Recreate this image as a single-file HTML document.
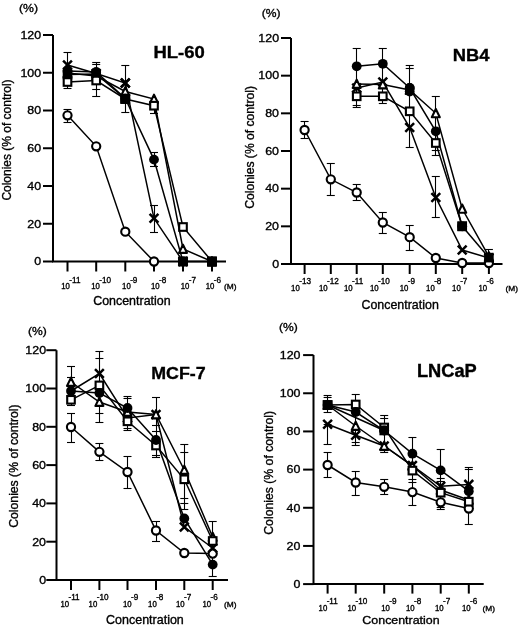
<!DOCTYPE html>
<html><head><meta charset="utf-8"><title>Colonies vs Concentration</title>
<style>
html,body{margin:0;padding:0;background:#fff;overflow:hidden;width:520px;height:626px;}
svg{display:block;filter:grayscale(1);}
text{font-family:"Liberation Sans", sans-serif;fill:#000;stroke:#000;stroke-width:0.35px;}
</style></head>
<body>
<svg width="520" height="626" viewBox="0 0 520 626" stroke="#000" stroke-linecap="butt">
<rect width="520" height="626" fill="#fff" stroke="none"/>
<path d="M53 35V261.5H226" fill="none" stroke-width="2.0"/>
<line x1="43" y1="261.5" x2="53" y2="261.5" stroke-width="2.0"/>
<text x="34.25" y="265.3" font-size="11.6" textLength="6.9" lengthAdjust="spacingAndGlyphs">0</text>
<line x1="43" y1="223.75" x2="53" y2="223.75" stroke-width="2.0"/>
<text x="27.3" y="227.55" font-size="11.6" textLength="13.8" lengthAdjust="spacingAndGlyphs">20</text>
<line x1="43" y1="186" x2="53" y2="186" stroke-width="2.0"/>
<text x="27.3" y="189.8" font-size="11.6" textLength="13.8" lengthAdjust="spacingAndGlyphs">40</text>
<line x1="43" y1="148.25" x2="53" y2="148.25" stroke-width="2.0"/>
<text x="27.3" y="152.05" font-size="11.6" textLength="13.8" lengthAdjust="spacingAndGlyphs">60</text>
<line x1="43" y1="110.5" x2="53" y2="110.5" stroke-width="2.0"/>
<text x="27.3" y="114.3" font-size="11.6" textLength="13.8" lengthAdjust="spacingAndGlyphs">80</text>
<line x1="43" y1="72.75" x2="53" y2="72.75" stroke-width="2.0"/>
<text x="20.47" y="76.55" font-size="11.6" textLength="20.71" lengthAdjust="spacingAndGlyphs">100</text>
<line x1="43" y1="35" x2="53" y2="35" stroke-width="2.0"/>
<text x="20.47" y="38.8" font-size="11.6" textLength="20.71" lengthAdjust="spacingAndGlyphs">120</text>
<line x1="67.5" y1="261.5" x2="67.5" y2="271.5" stroke-width="2.0"/>
<text x="61.28" y="289" font-size="8.2" textLength="8.66" lengthAdjust="spacingAndGlyphs">10</text>
<text x="69.36" y="282.7" font-size="8.6" textLength="11.2" lengthAdjust="spacingAndGlyphs">-11</text>
<line x1="96.2" y1="261.5" x2="96.2" y2="271.5" stroke-width="2.0"/>
<text x="91.28" y="289" font-size="8.2" textLength="8.66" lengthAdjust="spacingAndGlyphs">10</text>
<text x="99.36" y="282.79" font-size="8.6" textLength="11.81" lengthAdjust="spacingAndGlyphs">-10</text>
<line x1="125.3" y1="261.5" x2="125.3" y2="271.5" stroke-width="2.0"/>
<text x="122.08" y="289" font-size="8.2" textLength="8.66" lengthAdjust="spacingAndGlyphs">10</text>
<text x="130.16" y="282.79" font-size="8.6" textLength="7.26" lengthAdjust="spacingAndGlyphs">-9</text>
<line x1="154" y1="261.5" x2="154" y2="271.5" stroke-width="2.0"/>
<text x="150.88" y="289" font-size="8.2" textLength="8.66" lengthAdjust="spacingAndGlyphs">10</text>
<text x="158.96" y="282.79" font-size="8.6" textLength="7.26" lengthAdjust="spacingAndGlyphs">-8</text>
<line x1="183" y1="261.5" x2="183" y2="271.5" stroke-width="2.0"/>
<text x="180.68" y="289" font-size="8.2" textLength="8.66" lengthAdjust="spacingAndGlyphs">10</text>
<text x="188.76" y="282.7" font-size="8.6" textLength="7.26" lengthAdjust="spacingAndGlyphs">-7</text>
<line x1="212" y1="261.5" x2="212" y2="271.5" stroke-width="2.0"/>
<text x="205.68" y="289" font-size="8.2" textLength="8.66" lengthAdjust="spacingAndGlyphs">10</text>
<text x="213.76" y="282.79" font-size="8.6" textLength="7.26" lengthAdjust="spacingAndGlyphs">-6</text>
<text x="224.1" y="289" font-size="8" textLength="12.49" lengthAdjust="spacingAndGlyphs">(M)</text>
<text x="18.97" y="12.16" font-size="11.61" textLength="19.03" lengthAdjust="spacingAndGlyphs">(%)</text>
<text x="153.41" y="58.24" font-size="16.34" font-weight="bold" stroke-width="0.1" textLength="51.3" lengthAdjust="spacingAndGlyphs">HL-60</text>
<text x="93.18" y="305.28" font-size="11.92" textLength="77.44" lengthAdjust="spacingAndGlyphs">Concentration</text>
<text x="0" y="0" font-size="12.3" textLength="121.17" lengthAdjust="spacingAndGlyphs" transform="translate(11.46 200.6) rotate(-90)">Colonies (% of control)</text>
<line x1="67.5" y1="52" x2="67.5" y2="88.5" stroke-width="1.1"/>
<line x1="63.5" y1="52.5" x2="71.5" y2="52.5" stroke-width="1.1"/>
<line x1="63.5" y1="88.5" x2="71.5" y2="88.5" stroke-width="1.1"/>
<line x1="67.5" y1="109.4" x2="67.5" y2="122.5" stroke-width="1.1"/>
<line x1="63.5" y1="109.5" x2="71.5" y2="109.5" stroke-width="1.1"/>
<line x1="63.5" y1="122.5" x2="71.5" y2="122.5" stroke-width="1.1"/>
<line x1="96.5" y1="62.7" x2="96.5" y2="96.5" stroke-width="1.1"/>
<line x1="92.2" y1="62.5" x2="100.2" y2="62.5" stroke-width="1.1"/>
<line x1="92.2" y1="64.5" x2="100.2" y2="64.5" stroke-width="1.1"/>
<line x1="92.2" y1="89.5" x2="100.2" y2="89.5" stroke-width="1.1"/>
<line x1="92.2" y1="96.5" x2="100.2" y2="96.5" stroke-width="1.1"/>
<line x1="125.5" y1="65" x2="125.5" y2="112.5" stroke-width="1.1"/>
<line x1="121.3" y1="65.5" x2="129.3" y2="65.5" stroke-width="1.1"/>
<line x1="121.3" y1="112.5" x2="129.3" y2="112.5" stroke-width="1.1"/>
<line x1="154.5" y1="152.5" x2="154.5" y2="166.3" stroke-width="1.1"/>
<line x1="150" y1="152.5" x2="158" y2="152.5" stroke-width="1.1"/>
<line x1="150" y1="166.5" x2="158" y2="166.5" stroke-width="1.1"/>
<line x1="154.5" y1="205" x2="154.5" y2="232.6" stroke-width="1.1"/>
<line x1="150" y1="205.5" x2="158" y2="205.5" stroke-width="1.1"/>
<line x1="150" y1="232.5" x2="158" y2="232.5" stroke-width="1.1"/>
<line x1="154.5" y1="100" x2="154.5" y2="113.4" stroke-width="1.1"/>
<line x1="150" y1="113.5" x2="158" y2="113.5" stroke-width="1.1"/>
<path d="M67.5 115.3L96.2 146.3L125.3 231.7L154 261.5" fill="none" stroke-width="1.5"/>
<path d="M67.5 82L96.2 80.5L125.3 99L154 105.7L183 227L212 261.5" fill="none" stroke-width="1.5"/>
<path d="M67.5 73L96.2 76L125.3 91.5L154 99L183 249L212 261.5" fill="none" stroke-width="1.5"/>
<path d="M67.5 71L96.2 72L125.3 98.5L154 159.6L183 261.5" fill="none" stroke-width="1.5"/>
<path d="M67.5 74.5L96.2 74L125.3 98.8" fill="none" stroke-width="1.5"/>
<path d="M183 261.5L212 261.5" fill="none" stroke-width="1.5"/>
<path d="M67.5 65L96.2 73.5L125.3 83L154 218.3L183 261.5" fill="none" stroke-width="1.5"/>
<circle cx="67.5" cy="115.3" r="4.1" fill="#fff" stroke-width="2.1"/>
<circle cx="96.2" cy="146.3" r="4.1" fill="#fff" stroke-width="2.1"/>
<circle cx="125.3" cy="231.7" r="4.1" fill="#fff" stroke-width="2.1"/>
<circle cx="154" cy="261.5" r="4.1" fill="#fff" stroke-width="2.1"/>
<path d="M67.5 68.7L71.5 76.9L63.5 76.9Z" fill="#fff" stroke-width="2.1" stroke-linejoin="round"/>
<path d="M96.2 71.7L100.2 79.9L92.2 79.9Z" fill="#fff" stroke-width="2.1" stroke-linejoin="round"/>
<path d="M125.3 87.2L129.3 95.4L121.3 95.4Z" fill="#fff" stroke-width="2.1" stroke-linejoin="round"/>
<path d="M154 94.7L158 102.9L150 102.9Z" fill="#fff" stroke-width="2.1" stroke-linejoin="round"/>
<path d="M183 244.7L187 252.9L179 252.9Z" fill="#fff" stroke-width="2.1" stroke-linejoin="round"/>
<path d="M212 257.2L216 265.4L208 265.4Z" fill="#fff" stroke-width="2.1" stroke-linejoin="round"/>
<rect x="62.7" y="69.7" width="9.6" height="9.6" fill="#000" stroke="none"/>
<rect x="91.4" y="69.2" width="9.6" height="9.6" fill="#000" stroke="none"/>
<rect x="120.5" y="94" width="9.6" height="9.6" fill="#000" stroke="none"/>
<rect x="178.2" y="256.7" width="9.6" height="9.6" fill="#000" stroke="none"/>
<rect x="207.2" y="256.7" width="9.6" height="9.6" fill="#000" stroke="none"/>
<circle cx="67.5" cy="71" r="4.9" fill="#000" stroke="none"/>
<circle cx="96.2" cy="72" r="4.9" fill="#000" stroke="none"/>
<circle cx="125.3" cy="98.5" r="4.9" fill="#000" stroke="none"/>
<circle cx="154" cy="159.6" r="4.9" fill="#000" stroke="none"/>
<circle cx="183" cy="261.5" r="4.9" fill="#000" stroke="none"/>
<rect x="63.7" y="78.2" width="7.6" height="7.6" fill="#fff" stroke-width="2.1"/>
<rect x="92.4" y="76.7" width="7.6" height="7.6" fill="#fff" stroke-width="2.1"/>
<rect x="121.5" y="95.2" width="7.6" height="7.6" fill="#fff" stroke-width="2.1"/>
<rect x="150.2" y="101.9" width="7.6" height="7.6" fill="#fff" stroke-width="2.1"/>
<rect x="179.2" y="223.2" width="7.6" height="7.6" fill="#fff" stroke-width="2.1"/>
<rect x="208.2" y="257.7" width="7.6" height="7.6" fill="#fff" stroke-width="2.1"/>
<path d="M63.1 60.6L71.9 69.4M71.9 60.6L63.1 69.4" fill="none" stroke-width="2.5"/>
<path d="M91.8 69.1L100.6 77.9M100.6 69.1L91.8 77.9" fill="none" stroke-width="2.5"/>
<path d="M120.9 78.6L129.7 87.4M129.7 78.6L120.9 87.4" fill="none" stroke-width="2.5"/>
<path d="M149.6 213.9L158.4 222.7M158.4 213.9L149.6 222.7" fill="none" stroke-width="2.5"/>
<path d="M178.6 257.1L187.4 265.9M187.4 257.1L178.6 265.9" fill="none" stroke-width="2.5"/>
<rect x="120.5" y="94" width="9.6" height="9.6" fill="#000" stroke="none"/>
<path d="M120.9 78.6L129.7 87.4M129.7 78.6L120.9 87.4" fill="none" stroke-width="2.5"/>
<rect x="178.2" y="256.7" width="9.6" height="9.6" fill="#000" stroke="none"/>
<rect x="207.2" y="256.7" width="9.6" height="9.6" fill="#000" stroke="none"/>
<path d="M291 38V264H502.5" fill="none" stroke-width="2.0"/>
<line x1="281" y1="264" x2="291" y2="264" stroke-width="2.0"/>
<text x="272.15" y="267.8" font-size="11.6" textLength="6.9" lengthAdjust="spacingAndGlyphs">0</text>
<line x1="281" y1="226.33" x2="291" y2="226.33" stroke-width="2.0"/>
<text x="265.2" y="230.13" font-size="11.6" textLength="13.8" lengthAdjust="spacingAndGlyphs">20</text>
<line x1="281" y1="188.67" x2="291" y2="188.67" stroke-width="2.0"/>
<text x="265.2" y="192.47" font-size="11.6" textLength="13.8" lengthAdjust="spacingAndGlyphs">40</text>
<line x1="281" y1="151" x2="291" y2="151" stroke-width="2.0"/>
<text x="265.2" y="154.8" font-size="11.6" textLength="13.8" lengthAdjust="spacingAndGlyphs">60</text>
<line x1="281" y1="113.33" x2="291" y2="113.33" stroke-width="2.0"/>
<text x="265.2" y="117.13" font-size="11.6" textLength="13.8" lengthAdjust="spacingAndGlyphs">80</text>
<line x1="281" y1="75.67" x2="291" y2="75.67" stroke-width="2.0"/>
<text x="258.37" y="79.47" font-size="11.6" textLength="20.71" lengthAdjust="spacingAndGlyphs">100</text>
<line x1="281" y1="38" x2="291" y2="38" stroke-width="2.0"/>
<text x="258.37" y="41.8" font-size="11.6" textLength="20.71" lengthAdjust="spacingAndGlyphs">120</text>
<line x1="304.6" y1="264" x2="304.6" y2="274" stroke-width="2.0"/>
<text x="291.08" y="290.5" font-size="8.2" textLength="8.66" lengthAdjust="spacingAndGlyphs">10</text>
<text x="299.16" y="284.29" font-size="8.6" textLength="11.81" lengthAdjust="spacingAndGlyphs">-13</text>
<line x1="330.8" y1="264" x2="330.8" y2="274" stroke-width="2.0"/>
<text x="318.98" y="290.5" font-size="8.2" textLength="8.66" lengthAdjust="spacingAndGlyphs">10</text>
<text x="327.06" y="284.29" font-size="8.6" textLength="11.81" lengthAdjust="spacingAndGlyphs">-12</text>
<line x1="356.7" y1="264" x2="356.7" y2="274" stroke-width="2.0"/>
<text x="343.98" y="290.5" font-size="8.2" textLength="8.66" lengthAdjust="spacingAndGlyphs">10</text>
<text x="352.06" y="284.2" font-size="8.6" textLength="11.2" lengthAdjust="spacingAndGlyphs">-11</text>
<line x1="382.8" y1="264" x2="382.8" y2="274" stroke-width="2.0"/>
<text x="369.98" y="290.5" font-size="8.2" textLength="8.66" lengthAdjust="spacingAndGlyphs">10</text>
<text x="378.06" y="284.29" font-size="8.6" textLength="11.81" lengthAdjust="spacingAndGlyphs">-10</text>
<line x1="409.7" y1="264" x2="409.7" y2="274" stroke-width="2.0"/>
<text x="399.68" y="290.5" font-size="8.2" textLength="8.66" lengthAdjust="spacingAndGlyphs">10</text>
<text x="407.76" y="284.29" font-size="8.6" textLength="7.26" lengthAdjust="spacingAndGlyphs">-9</text>
<line x1="435.8" y1="264" x2="435.8" y2="274" stroke-width="2.0"/>
<text x="426.08" y="290.5" font-size="8.2" textLength="8.66" lengthAdjust="spacingAndGlyphs">10</text>
<text x="434.16" y="284.29" font-size="8.6" textLength="7.26" lengthAdjust="spacingAndGlyphs">-8</text>
<line x1="462.2" y1="264" x2="462.2" y2="274" stroke-width="2.0"/>
<text x="452.08" y="290.5" font-size="8.2" textLength="8.66" lengthAdjust="spacingAndGlyphs">10</text>
<text x="460.16" y="284.2" font-size="8.6" textLength="7.26" lengthAdjust="spacingAndGlyphs">-7</text>
<line x1="488.9" y1="264" x2="488.9" y2="274" stroke-width="2.0"/>
<text x="478.48" y="290.5" font-size="8.2" textLength="8.66" lengthAdjust="spacingAndGlyphs">10</text>
<text x="486.56" y="284.29" font-size="8.6" textLength="7.26" lengthAdjust="spacingAndGlyphs">-6</text>
<text x="505.5" y="290.5" font-size="8" textLength="12.49" lengthAdjust="spacingAndGlyphs">(M)</text>
<text x="261.77" y="16.52" font-size="11.83" textLength="18.81" lengthAdjust="spacingAndGlyphs">(%)</text>
<text x="452.72" y="61.2" font-size="16.96" font-weight="bold" stroke-width="0.1" textLength="36.68" lengthAdjust="spacingAndGlyphs">NB4</text>
<text x="361.48" y="308.67" font-size="12.6" textLength="77.34" lengthAdjust="spacingAndGlyphs">Concentration</text>
<text x="0" y="0" font-size="12.3" textLength="122.69" lengthAdjust="spacingAndGlyphs" transform="translate(254.06 208.71) rotate(-90)">Colonies (% of control)</text>
<line x1="304.5" y1="121.3" x2="304.5" y2="138.8" stroke-width="1.1"/>
<line x1="300.6" y1="121.5" x2="308.6" y2="121.5" stroke-width="1.1"/>
<line x1="300.6" y1="138.5" x2="308.6" y2="138.5" stroke-width="1.1"/>
<line x1="330.5" y1="163" x2="330.5" y2="195" stroke-width="1.1"/>
<line x1="326.8" y1="163.5" x2="334.8" y2="163.5" stroke-width="1.1"/>
<line x1="326.8" y1="195.5" x2="334.8" y2="195.5" stroke-width="1.1"/>
<line x1="356.5" y1="48.8" x2="356.5" y2="107" stroke-width="1.1"/>
<line x1="352.7" y1="48.5" x2="360.7" y2="48.5" stroke-width="1.1"/>
<line x1="352.7" y1="105.5" x2="360.7" y2="105.5" stroke-width="1.1"/>
<line x1="352.7" y1="107.5" x2="360.7" y2="107.5" stroke-width="1.1"/>
<line x1="356.5" y1="184.5" x2="356.5" y2="200.5" stroke-width="1.1"/>
<line x1="352.7" y1="184.5" x2="360.7" y2="184.5" stroke-width="1.1"/>
<line x1="352.7" y1="200.5" x2="360.7" y2="200.5" stroke-width="1.1"/>
<line x1="382.5" y1="48" x2="382.5" y2="103.8" stroke-width="1.1"/>
<line x1="378.8" y1="48.5" x2="386.8" y2="48.5" stroke-width="1.1"/>
<line x1="378.8" y1="103.5" x2="386.8" y2="103.5" stroke-width="1.1"/>
<line x1="382.5" y1="212.5" x2="382.5" y2="233.8" stroke-width="1.1"/>
<line x1="378.8" y1="212.5" x2="386.8" y2="212.5" stroke-width="1.1"/>
<line x1="378.8" y1="233.5" x2="386.8" y2="233.5" stroke-width="1.1"/>
<line x1="409.5" y1="65" x2="409.5" y2="147.5" stroke-width="1.1"/>
<line x1="405.7" y1="65.5" x2="413.7" y2="65.5" stroke-width="1.1"/>
<line x1="405.7" y1="68.5" x2="413.7" y2="68.5" stroke-width="1.1"/>
<line x1="405.7" y1="147.5" x2="413.7" y2="147.5" stroke-width="1.1"/>
<line x1="409.5" y1="225.5" x2="409.5" y2="250" stroke-width="1.1"/>
<line x1="405.7" y1="225.5" x2="413.7" y2="225.5" stroke-width="1.1"/>
<line x1="405.7" y1="250.5" x2="413.7" y2="250.5" stroke-width="1.1"/>
<line x1="435.5" y1="96.3" x2="435.5" y2="155" stroke-width="1.1"/>
<line x1="431.8" y1="96.5" x2="439.8" y2="96.5" stroke-width="1.1"/>
<line x1="431.8" y1="150.5" x2="439.8" y2="150.5" stroke-width="1.1"/>
<line x1="431.8" y1="155.5" x2="439.8" y2="155.5" stroke-width="1.1"/>
<line x1="435.5" y1="176.3" x2="435.5" y2="217.5" stroke-width="1.1"/>
<line x1="431.8" y1="176.5" x2="439.8" y2="176.5" stroke-width="1.1"/>
<line x1="431.8" y1="217.5" x2="439.8" y2="217.5" stroke-width="1.1"/>
<line x1="488.5" y1="249.5" x2="488.5" y2="262" stroke-width="1.1"/>
<line x1="484.9" y1="249.5" x2="492.9" y2="249.5" stroke-width="1.1"/>
<line x1="484.9" y1="262.5" x2="492.9" y2="262.5" stroke-width="1.1"/>
<path d="M304.6 130L330.8 179.3L356.7 192.5L382.8 222.5L409.7 237.2L435.8 258L462.2 263L488.9 263" fill="none" stroke-width="1.5"/>
<path d="M356.7 96.3L382.8 96.3L409.7 111.3L435.8 143L462.2 226.3" fill="none" stroke-width="1.5"/>
<path d="M356.7 88L382.8 82L409.7 127.5L435.8 197.5L462.2 250L488.9 258" fill="none" stroke-width="1.5"/>
<path d="M356.7 84L382.8 84.5L409.7 90L435.8 113.3L462.2 208.8L488.9 256.5" fill="none" stroke-width="1.5"/>
<path d="M356.7 66.3L382.8 63.8L409.7 88L435.8 131.3L462.2 226.3" fill="none" stroke-width="1.5"/>
<path d="M462.2 226.3L488.9 257.6" fill="none" stroke-width="1.5"/>
<circle cx="304.6" cy="130" r="4.1" fill="#fff" stroke-width="2.1"/>
<circle cx="330.8" cy="179.3" r="4.1" fill="#fff" stroke-width="2.1"/>
<circle cx="356.7" cy="192.5" r="4.1" fill="#fff" stroke-width="2.1"/>
<circle cx="382.8" cy="222.5" r="4.1" fill="#fff" stroke-width="2.1"/>
<circle cx="409.7" cy="237.2" r="4.1" fill="#fff" stroke-width="2.1"/>
<circle cx="435.8" cy="258" r="4.1" fill="#fff" stroke-width="2.1"/>
<circle cx="462.2" cy="263" r="4.1" fill="#fff" stroke-width="2.1"/>
<circle cx="488.9" cy="263" r="4.1" fill="#fff" stroke-width="2.1"/>
<rect x="352.9" y="92.5" width="7.6" height="7.6" fill="#fff" stroke-width="2.1"/>
<rect x="379" y="92.5" width="7.6" height="7.6" fill="#fff" stroke-width="2.1"/>
<rect x="405.9" y="107.5" width="7.6" height="7.6" fill="#fff" stroke-width="2.1"/>
<rect x="432" y="139.2" width="7.6" height="7.6" fill="#fff" stroke-width="2.1"/>
<rect x="458.4" y="222.5" width="7.6" height="7.6" fill="#fff" stroke-width="2.1"/>
<path d="M352.3 83.6L361.1 92.4M361.1 83.6L352.3 92.4" fill="none" stroke-width="2.5"/>
<path d="M378.4 77.6L387.2 86.4M387.2 77.6L378.4 86.4" fill="none" stroke-width="2.5"/>
<path d="M405.3 123.1L414.1 131.9M414.1 123.1L405.3 131.9" fill="none" stroke-width="2.5"/>
<path d="M431.4 193.1L440.2 201.9M440.2 193.1L431.4 201.9" fill="none" stroke-width="2.5"/>
<path d="M457.8 245.6L466.6 254.4M466.6 245.6L457.8 254.4" fill="none" stroke-width="2.5"/>
<path d="M484.5 253.6L493.3 262.4M493.3 253.6L484.5 262.4" fill="none" stroke-width="2.5"/>
<path d="M356.7 79.7L360.7 87.9L352.7 87.9Z" fill="#fff" stroke-width="2.1" stroke-linejoin="round"/>
<path d="M382.8 80.2L386.8 88.4L378.8 88.4Z" fill="#fff" stroke-width="2.1" stroke-linejoin="round"/>
<path d="M409.7 85.7L413.7 93.9L405.7 93.9Z" fill="#fff" stroke-width="2.1" stroke-linejoin="round"/>
<path d="M435.8 109L439.8 117.2L431.8 117.2Z" fill="#fff" stroke-width="2.1" stroke-linejoin="round"/>
<path d="M462.2 204.5L466.2 212.7L458.2 212.7Z" fill="#fff" stroke-width="2.1" stroke-linejoin="round"/>
<path d="M488.9 252.2L492.9 260.4L484.9 260.4Z" fill="#fff" stroke-width="2.1" stroke-linejoin="round"/>
<circle cx="356.7" cy="66.3" r="4.9" fill="#000" stroke="none"/>
<circle cx="382.8" cy="63.8" r="4.9" fill="#000" stroke="none"/>
<circle cx="409.7" cy="88" r="4.9" fill="#000" stroke="none"/>
<circle cx="435.8" cy="131.3" r="4.9" fill="#000" stroke="none"/>
<circle cx="462.2" cy="226.3" r="4.9" fill="#000" stroke="none"/>
<rect x="457.4" y="221.5" width="9.6" height="9.6" fill="#000" stroke="none"/>
<rect x="484.1" y="252.8" width="9.6" height="9.6" fill="#000" stroke="none"/>
<circle cx="409.7" cy="91.5" r="4.9" fill="#000" stroke="none"/>
<circle cx="409.7" cy="88" r="4.9" fill="#000" stroke="none"/>
<path d="M56.5 350.2V580H228" fill="none" stroke-width="2.0"/>
<line x1="46.3" y1="580" x2="56.5" y2="580" stroke-width="2.0"/>
<text x="39.15" y="583.8" font-size="11.6" textLength="6.9" lengthAdjust="spacingAndGlyphs">0</text>
<line x1="46.3" y1="541.7" x2="56.5" y2="541.7" stroke-width="2.0"/>
<text x="32.2" y="545.5" font-size="11.6" textLength="13.8" lengthAdjust="spacingAndGlyphs">20</text>
<line x1="46.3" y1="503.4" x2="56.5" y2="503.4" stroke-width="2.0"/>
<text x="32.2" y="507.2" font-size="11.6" textLength="13.8" lengthAdjust="spacingAndGlyphs">40</text>
<line x1="46.3" y1="465.1" x2="56.5" y2="465.1" stroke-width="2.0"/>
<text x="32.2" y="468.9" font-size="11.6" textLength="13.8" lengthAdjust="spacingAndGlyphs">60</text>
<line x1="46.3" y1="426.8" x2="56.5" y2="426.8" stroke-width="2.0"/>
<text x="32.2" y="430.6" font-size="11.6" textLength="13.8" lengthAdjust="spacingAndGlyphs">80</text>
<line x1="46.3" y1="388.5" x2="56.5" y2="388.5" stroke-width="2.0"/>
<text x="25.37" y="392.3" font-size="11.6" textLength="20.71" lengthAdjust="spacingAndGlyphs">100</text>
<line x1="46.3" y1="350.2" x2="56.5" y2="350.2" stroke-width="2.0"/>
<text x="25.37" y="354" font-size="11.6" textLength="20.71" lengthAdjust="spacingAndGlyphs">120</text>
<line x1="71" y1="580" x2="71" y2="590" stroke-width="2.0"/>
<text x="60.38" y="606.6" font-size="8.2" textLength="8.66" lengthAdjust="spacingAndGlyphs">10</text>
<text x="68.46" y="600.3" font-size="8.6" textLength="11.2" lengthAdjust="spacingAndGlyphs">-11</text>
<line x1="99.4" y1="580" x2="99.4" y2="590" stroke-width="2.0"/>
<text x="88.58" y="606.6" font-size="8.2" textLength="8.66" lengthAdjust="spacingAndGlyphs">10</text>
<text x="96.66" y="600.39" font-size="8.6" textLength="11.81" lengthAdjust="spacingAndGlyphs">-10</text>
<line x1="127.5" y1="580" x2="127.5" y2="590" stroke-width="2.0"/>
<text x="122.88" y="606.6" font-size="8.2" textLength="8.66" lengthAdjust="spacingAndGlyphs">10</text>
<text x="130.96" y="600.39" font-size="8.6" textLength="7.26" lengthAdjust="spacingAndGlyphs">-9</text>
<line x1="156" y1="580" x2="156" y2="590" stroke-width="2.0"/>
<text x="148.08" y="606.6" font-size="8.2" textLength="8.66" lengthAdjust="spacingAndGlyphs">10</text>
<text x="156.16" y="600.39" font-size="8.6" textLength="7.26" lengthAdjust="spacingAndGlyphs">-8</text>
<line x1="184.3" y1="580" x2="184.3" y2="590" stroke-width="2.0"/>
<text x="175.88" y="606.6" font-size="8.2" textLength="8.66" lengthAdjust="spacingAndGlyphs">10</text>
<text x="183.96" y="600.3" font-size="8.6" textLength="7.26" lengthAdjust="spacingAndGlyphs">-7</text>
<line x1="212.7" y1="580" x2="212.7" y2="590" stroke-width="2.0"/>
<text x="202.38" y="606.6" font-size="8.2" textLength="8.66" lengthAdjust="spacingAndGlyphs">10</text>
<text x="210.46" y="600.39" font-size="8.6" textLength="7.26" lengthAdjust="spacingAndGlyphs">-6</text>
<text x="224.1" y="606.6" font-size="8" textLength="12.49" lengthAdjust="spacingAndGlyphs">(M)</text>
<text x="27.97" y="334.82" font-size="11.83" textLength="18.81" lengthAdjust="spacingAndGlyphs">(%)</text>
<text x="151.25" y="378.83" font-size="16.9" font-weight="bold" stroke-width="0.1" textLength="54.45" lengthAdjust="spacingAndGlyphs">MCF-7</text>
<text x="106.08" y="624.38" font-size="12.19" textLength="77.74" lengthAdjust="spacingAndGlyphs">Concentration</text>
<text x="0" y="0" font-size="12.3" textLength="123.3" lengthAdjust="spacingAndGlyphs" transform="translate(17.86 527.71) rotate(-90)">Colonies (% of control)</text>
<line x1="71.5" y1="366.2" x2="71.5" y2="405.8" stroke-width="1.1"/>
<line x1="67" y1="366.5" x2="75" y2="366.5" stroke-width="1.1"/>
<line x1="67" y1="377.5" x2="75" y2="377.5" stroke-width="1.1"/>
<line x1="67" y1="405.5" x2="75" y2="405.5" stroke-width="1.1"/>
<line x1="71.5" y1="413.5" x2="71.5" y2="442" stroke-width="1.1"/>
<line x1="67" y1="413.5" x2="75" y2="413.5" stroke-width="1.1"/>
<line x1="67" y1="442.5" x2="75" y2="442.5" stroke-width="1.1"/>
<line x1="99.5" y1="351.3" x2="99.5" y2="422.8" stroke-width="1.1"/>
<line x1="95.4" y1="351.5" x2="103.4" y2="351.5" stroke-width="1.1"/>
<line x1="95.4" y1="358.5" x2="103.4" y2="358.5" stroke-width="1.1"/>
<line x1="95.4" y1="413.5" x2="103.4" y2="413.5" stroke-width="1.1"/>
<line x1="95.4" y1="422.5" x2="103.4" y2="422.5" stroke-width="1.1"/>
<line x1="99.5" y1="443.4" x2="99.5" y2="460" stroke-width="1.1"/>
<line x1="95.4" y1="443.5" x2="103.4" y2="443.5" stroke-width="1.1"/>
<line x1="95.4" y1="460.5" x2="103.4" y2="460.5" stroke-width="1.1"/>
<line x1="127.5" y1="396.6" x2="127.5" y2="430" stroke-width="1.1"/>
<line x1="123.5" y1="396.5" x2="131.5" y2="396.5" stroke-width="1.1"/>
<line x1="123.5" y1="398.5" x2="131.5" y2="398.5" stroke-width="1.1"/>
<line x1="123.5" y1="428.5" x2="131.5" y2="428.5" stroke-width="1.1"/>
<line x1="123.5" y1="430.5" x2="131.5" y2="430.5" stroke-width="1.1"/>
<line x1="127.5" y1="456.3" x2="127.5" y2="488.8" stroke-width="1.1"/>
<line x1="123.5" y1="456.5" x2="131.5" y2="456.5" stroke-width="1.1"/>
<line x1="123.5" y1="488.5" x2="131.5" y2="488.5" stroke-width="1.1"/>
<line x1="156.5" y1="397.5" x2="156.5" y2="457.5" stroke-width="1.1"/>
<line x1="152" y1="397.5" x2="160" y2="397.5" stroke-width="1.1"/>
<line x1="152" y1="425.5" x2="160" y2="425.5" stroke-width="1.1"/>
<line x1="152" y1="431.5" x2="160" y2="431.5" stroke-width="1.1"/>
<line x1="152" y1="455.5" x2="160" y2="455.5" stroke-width="1.1"/>
<line x1="152" y1="457.5" x2="160" y2="457.5" stroke-width="1.1"/>
<line x1="156.5" y1="521" x2="156.5" y2="541" stroke-width="1.1"/>
<line x1="152" y1="521.5" x2="160" y2="521.5" stroke-width="1.1"/>
<line x1="152" y1="541.5" x2="160" y2="541.5" stroke-width="1.1"/>
<line x1="184.5" y1="444.4" x2="184.5" y2="509" stroke-width="1.1"/>
<line x1="180.3" y1="444.5" x2="188.3" y2="444.5" stroke-width="1.1"/>
<line x1="180.3" y1="452.5" x2="188.3" y2="452.5" stroke-width="1.1"/>
<line x1="180.3" y1="498.5" x2="188.3" y2="498.5" stroke-width="1.1"/>
<line x1="180.3" y1="503.5" x2="188.3" y2="503.5" stroke-width="1.1"/>
<line x1="180.3" y1="509.5" x2="188.3" y2="509.5" stroke-width="1.1"/>
<line x1="212.5" y1="521.3" x2="212.5" y2="576" stroke-width="1.1"/>
<line x1="208.7" y1="521.5" x2="216.7" y2="521.5" stroke-width="1.1"/>
<line x1="208.7" y1="576.5" x2="216.7" y2="576.5" stroke-width="1.1"/>
<path d="M71 427L99.4 451.8L127.5 472L156 530.5L184.3 553L212.7 553.6" fill="none" stroke-width="1.5"/>
<path d="M71 399.8L99.4 385.4L127.5 421.3L156 445.5L184.3 479.3L212.7 541" fill="none" stroke-width="1.5"/>
<path d="M71 382L99.4 402L127.5 412L156 414.5L184.3 470L212.7 537" fill="none" stroke-width="1.5"/>
<path d="M71 391L99.4 373.5L127.5 418L156 414.5L184.3 527L212.7 548" fill="none" stroke-width="1.5"/>
<path d="M71 391L99.4 393L127.5 408L156 440L184.3 518.5L212.7 564.6" fill="none" stroke-width="1.5"/>
<circle cx="71" cy="427" r="4.1" fill="#fff" stroke-width="2.1"/>
<circle cx="99.4" cy="451.8" r="4.1" fill="#fff" stroke-width="2.1"/>
<circle cx="127.5" cy="472" r="4.1" fill="#fff" stroke-width="2.1"/>
<circle cx="156" cy="530.5" r="4.1" fill="#fff" stroke-width="2.1"/>
<circle cx="184.3" cy="553" r="4.1" fill="#fff" stroke-width="2.1"/>
<circle cx="212.7" cy="553.6" r="4.1" fill="#fff" stroke-width="2.1"/>
<path d="M95 369.1L103.8 377.9M103.8 369.1L95 377.9" fill="none" stroke-width="2.5"/>
<path d="M123.1 413.6L131.9 422.4M131.9 413.6L123.1 422.4" fill="none" stroke-width="2.5"/>
<path d="M151.6 410.1L160.4 418.9M160.4 410.1L151.6 418.9" fill="none" stroke-width="2.5"/>
<path d="M179.9 522.6L188.7 531.4M188.7 522.6L179.9 531.4" fill="none" stroke-width="2.5"/>
<path d="M208.3 543.6L217.1 552.4M217.1 543.6L208.3 552.4" fill="none" stroke-width="2.5"/>
<path d="M71 377.7L75 385.9L67 385.9Z" fill="#fff" stroke-width="2.1" stroke-linejoin="round"/>
<path d="M99.4 397.7L103.4 405.9L95.4 405.9Z" fill="#fff" stroke-width="2.1" stroke-linejoin="round"/>
<path d="M127.5 407.7L131.5 415.9L123.5 415.9Z" fill="#fff" stroke-width="2.1" stroke-linejoin="round"/>
<path d="M156 410.2L160 418.4L152 418.4Z" fill="#fff" stroke-width="2.1" stroke-linejoin="round"/>
<path d="M184.3 465.7L188.3 473.9L180.3 473.9Z" fill="#fff" stroke-width="2.1" stroke-linejoin="round"/>
<path d="M212.7 532.7L216.7 540.9L208.7 540.9Z" fill="#fff" stroke-width="2.1" stroke-linejoin="round"/>
<rect x="67.2" y="396" width="7.6" height="7.6" fill="#fff" stroke-width="2.1"/>
<rect x="95.6" y="381.6" width="7.6" height="7.6" fill="#fff" stroke-width="2.1"/>
<rect x="123.7" y="417.5" width="7.6" height="7.6" fill="#fff" stroke-width="2.1"/>
<rect x="152.2" y="441.7" width="7.6" height="7.6" fill="#fff" stroke-width="2.1"/>
<rect x="180.5" y="475.5" width="7.6" height="7.6" fill="#fff" stroke-width="2.1"/>
<rect x="208.9" y="537.2" width="7.6" height="7.6" fill="#fff" stroke-width="2.1"/>
<circle cx="71" cy="391" r="4.9" fill="#000" stroke="none"/>
<circle cx="99.4" cy="393" r="4.9" fill="#000" stroke="none"/>
<circle cx="127.5" cy="408" r="4.9" fill="#000" stroke="none"/>
<circle cx="156" cy="440" r="4.9" fill="#000" stroke="none"/>
<circle cx="184.3" cy="518.5" r="4.9" fill="#000" stroke="none"/>
<circle cx="212.7" cy="564.6" r="4.9" fill="#000" stroke="none"/>
<path d="M313.5 355.1V584.1H483.7" fill="none" stroke-width="2.0"/>
<line x1="303.1" y1="584.1" x2="313.5" y2="584.1" stroke-width="2.0"/>
<text x="293.55" y="587.9" font-size="11.6" textLength="6.9" lengthAdjust="spacingAndGlyphs">0</text>
<line x1="303.1" y1="545.93" x2="313.5" y2="545.93" stroke-width="2.0"/>
<text x="286.6" y="549.73" font-size="11.6" textLength="13.8" lengthAdjust="spacingAndGlyphs">20</text>
<line x1="303.1" y1="507.77" x2="313.5" y2="507.77" stroke-width="2.0"/>
<text x="286.6" y="511.57" font-size="11.6" textLength="13.8" lengthAdjust="spacingAndGlyphs">40</text>
<line x1="303.1" y1="469.6" x2="313.5" y2="469.6" stroke-width="2.0"/>
<text x="286.6" y="473.4" font-size="11.6" textLength="13.8" lengthAdjust="spacingAndGlyphs">60</text>
<line x1="303.1" y1="431.43" x2="313.5" y2="431.43" stroke-width="2.0"/>
<text x="286.6" y="435.23" font-size="11.6" textLength="13.8" lengthAdjust="spacingAndGlyphs">80</text>
<line x1="303.1" y1="393.27" x2="313.5" y2="393.27" stroke-width="2.0"/>
<text x="279.77" y="397.07" font-size="11.6" textLength="20.71" lengthAdjust="spacingAndGlyphs">100</text>
<line x1="303.1" y1="355.1" x2="313.5" y2="355.1" stroke-width="2.0"/>
<text x="279.77" y="358.9" font-size="11.6" textLength="20.71" lengthAdjust="spacingAndGlyphs">120</text>
<line x1="327.6" y1="584.1" x2="327.6" y2="593.6" stroke-width="2.0"/>
<text x="318.58" y="610.5" font-size="8.2" textLength="8.66" lengthAdjust="spacingAndGlyphs">10</text>
<text x="326.66" y="604.2" font-size="8.6" textLength="11.2" lengthAdjust="spacingAndGlyphs">-11</text>
<line x1="355.7" y1="584.1" x2="355.7" y2="593.6" stroke-width="2.0"/>
<text x="347.48" y="610.5" font-size="8.2" textLength="8.66" lengthAdjust="spacingAndGlyphs">10</text>
<text x="355.56" y="604.29" font-size="8.6" textLength="11.81" lengthAdjust="spacingAndGlyphs">-10</text>
<line x1="384.2" y1="584.1" x2="384.2" y2="593.6" stroke-width="2.0"/>
<text x="381.28" y="610.5" font-size="8.2" textLength="8.66" lengthAdjust="spacingAndGlyphs">10</text>
<text x="389.36" y="604.29" font-size="8.6" textLength="7.26" lengthAdjust="spacingAndGlyphs">-9</text>
<line x1="412.4" y1="584.1" x2="412.4" y2="593.6" stroke-width="2.0"/>
<text x="405.88" y="610.5" font-size="8.2" textLength="8.66" lengthAdjust="spacingAndGlyphs">10</text>
<text x="413.96" y="604.29" font-size="8.6" textLength="7.26" lengthAdjust="spacingAndGlyphs">-8</text>
<line x1="440.7" y1="584.1" x2="440.7" y2="593.6" stroke-width="2.0"/>
<text x="434.98" y="610.5" font-size="8.2" textLength="8.66" lengthAdjust="spacingAndGlyphs">10</text>
<text x="443.06" y="604.2" font-size="8.6" textLength="7.26" lengthAdjust="spacingAndGlyphs">-7</text>
<line x1="468.8" y1="584.1" x2="468.8" y2="593.6" stroke-width="2.0"/>
<text x="461.88" y="610.5" font-size="8.2" textLength="8.66" lengthAdjust="spacingAndGlyphs">10</text>
<text x="469.96" y="604.29" font-size="8.6" textLength="7.26" lengthAdjust="spacingAndGlyphs">-6</text>
<text x="482.5" y="610.5" font-size="8" textLength="12.49" lengthAdjust="spacingAndGlyphs">(M)</text>
<text x="279.07" y="331.02" font-size="11.83" textLength="18.81" lengthAdjust="spacingAndGlyphs">(%)</text>
<text x="416.92" y="376.62" font-size="17.61" font-weight="bold" stroke-width="0.1" textLength="59.88" lengthAdjust="spacingAndGlyphs">LNCaP</text>
<text x="362.38" y="623.68" font-size="11.78" textLength="77.23" lengthAdjust="spacingAndGlyphs">Concentration</text>
<text x="0" y="0" font-size="12.3" textLength="123.7" lengthAdjust="spacingAndGlyphs" transform="translate(272.86 534.71) rotate(-90)">Colonies (% of control)</text>
<line x1="327.5" y1="395" x2="327.5" y2="412" stroke-width="1.1"/>
<line x1="323.6" y1="395.5" x2="331.6" y2="395.5" stroke-width="1.1"/>
<line x1="323.6" y1="397.5" x2="331.6" y2="397.5" stroke-width="1.1"/>
<line x1="323.6" y1="412.5" x2="331.6" y2="412.5" stroke-width="1.1"/>
<line x1="327.5" y1="424" x2="327.5" y2="444.2" stroke-width="1.1"/>
<line x1="323.6" y1="424.5" x2="331.6" y2="424.5" stroke-width="1.1"/>
<line x1="323.6" y1="444.5" x2="331.6" y2="444.5" stroke-width="1.1"/>
<line x1="327.5" y1="452.7" x2="327.5" y2="477" stroke-width="1.1"/>
<line x1="323.6" y1="452.5" x2="331.6" y2="452.5" stroke-width="1.1"/>
<line x1="323.6" y1="477.5" x2="331.6" y2="477.5" stroke-width="1.1"/>
<line x1="355.5" y1="394.5" x2="355.5" y2="445" stroke-width="1.1"/>
<line x1="351.7" y1="394.5" x2="359.7" y2="394.5" stroke-width="1.1"/>
<line x1="351.7" y1="442.5" x2="359.7" y2="442.5" stroke-width="1.1"/>
<line x1="351.7" y1="445.5" x2="359.7" y2="445.5" stroke-width="1.1"/>
<line x1="355.5" y1="471.3" x2="355.5" y2="495" stroke-width="1.1"/>
<line x1="351.7" y1="471.5" x2="359.7" y2="471.5" stroke-width="1.1"/>
<line x1="351.7" y1="495.5" x2="359.7" y2="495.5" stroke-width="1.1"/>
<line x1="384.5" y1="415.8" x2="384.5" y2="452.5" stroke-width="1.1"/>
<line x1="380.2" y1="415.5" x2="388.2" y2="415.5" stroke-width="1.1"/>
<line x1="380.2" y1="418.5" x2="388.2" y2="418.5" stroke-width="1.1"/>
<line x1="380.2" y1="450.5" x2="388.2" y2="450.5" stroke-width="1.1"/>
<line x1="380.2" y1="452.5" x2="388.2" y2="452.5" stroke-width="1.1"/>
<line x1="412.5" y1="437.7" x2="412.5" y2="505.2" stroke-width="1.1"/>
<line x1="408.4" y1="437.5" x2="416.4" y2="437.5" stroke-width="1.1"/>
<line x1="408.4" y1="479.5" x2="416.4" y2="479.5" stroke-width="1.1"/>
<line x1="408.4" y1="482.5" x2="416.4" y2="482.5" stroke-width="1.1"/>
<line x1="408.4" y1="505.5" x2="416.4" y2="505.5" stroke-width="1.1"/>
<line x1="384.5" y1="479.6" x2="384.5" y2="494.3" stroke-width="1.1"/>
<line x1="380.2" y1="479.5" x2="388.2" y2="479.5" stroke-width="1.1"/>
<line x1="380.2" y1="494.5" x2="388.2" y2="494.5" stroke-width="1.1"/>
<line x1="440.5" y1="449.8" x2="440.5" y2="509.4" stroke-width="1.1"/>
<line x1="436.7" y1="449.5" x2="444.7" y2="449.5" stroke-width="1.1"/>
<line x1="436.7" y1="478.5" x2="444.7" y2="478.5" stroke-width="1.1"/>
<line x1="436.7" y1="481.5" x2="444.7" y2="481.5" stroke-width="1.1"/>
<line x1="436.7" y1="507.5" x2="444.7" y2="507.5" stroke-width="1.1"/>
<line x1="436.7" y1="509.5" x2="444.7" y2="509.5" stroke-width="1.1"/>
<line x1="468.5" y1="467" x2="468.5" y2="524.8" stroke-width="1.1"/>
<line x1="464.8" y1="467.5" x2="472.8" y2="467.5" stroke-width="1.1"/>
<line x1="464.8" y1="469.5" x2="472.8" y2="469.5" stroke-width="1.1"/>
<line x1="464.8" y1="524.5" x2="472.8" y2="524.5" stroke-width="1.1"/>
<path d="M327.6 465L355.7 482.5L384.2 486.8L412.4 492.1L440.7 502.3L468.8 508.5" fill="none" stroke-width="1.5"/>
<path d="M327.6 405L355.7 426L384.2 446L412.4 466L440.7 490L468.8 500" fill="none" stroke-width="1.5"/>
<path d="M327.6 424.2L355.7 435.3L384.2 446L412.4 465.6L440.7 486.3L468.8 484.4" fill="none" stroke-width="1.5"/>
<path d="M327.6 405L355.7 404.5L384.2 427.5L412.4 470.6L440.7 492.7L468.8 501.7" fill="none" stroke-width="1.5"/>
<path d="M327.6 405L355.7 412L384.2 430.5L412.4 453.7L440.7 470.4L468.8 491.2" fill="none" stroke-width="1.5"/>
<path d="M327.6 405L384.2 430.5" fill="none" stroke-width="1.5"/>
<circle cx="327.6" cy="465" r="4.1" fill="#fff" stroke-width="2.1"/>
<circle cx="355.7" cy="482.5" r="4.1" fill="#fff" stroke-width="2.1"/>
<circle cx="384.2" cy="486.8" r="4.1" fill="#fff" stroke-width="2.1"/>
<circle cx="412.4" cy="492.1" r="4.1" fill="#fff" stroke-width="2.1"/>
<circle cx="440.7" cy="502.3" r="4.1" fill="#fff" stroke-width="2.1"/>
<circle cx="468.8" cy="508.5" r="4.1" fill="#fff" stroke-width="2.1"/>
<path d="M323.2 419.8L332 428.6M332 419.8L323.2 428.6" fill="none" stroke-width="2.5"/>
<path d="M351.3 430.9L360.1 439.7M360.1 430.9L351.3 439.7" fill="none" stroke-width="2.5"/>
<path d="M379.8 441.6L388.6 450.4M388.6 441.6L379.8 450.4" fill="none" stroke-width="2.5"/>
<path d="M408 461.2L416.8 470M416.8 461.2L408 470" fill="none" stroke-width="2.5"/>
<path d="M436.3 481.9L445.1 490.7M445.1 481.9L436.3 490.7" fill="none" stroke-width="2.5"/>
<path d="M464.4 480L473.2 488.8M473.2 480L464.4 488.8" fill="none" stroke-width="2.5"/>
<path d="M327.6 400.7L331.6 408.9L323.6 408.9Z" fill="#fff" stroke-width="2.1" stroke-linejoin="round"/>
<path d="M355.7 421.7L359.7 429.9L351.7 429.9Z" fill="#fff" stroke-width="2.1" stroke-linejoin="round"/>
<path d="M384.2 441.7L388.2 449.9L380.2 449.9Z" fill="#fff" stroke-width="2.1" stroke-linejoin="round"/>
<path d="M412.4 461.7L416.4 469.9L408.4 469.9Z" fill="#fff" stroke-width="2.1" stroke-linejoin="round"/>
<path d="M440.7 485.7L444.7 493.9L436.7 493.9Z" fill="#fff" stroke-width="2.1" stroke-linejoin="round"/>
<path d="M468.8 495.7L472.8 503.9L464.8 503.9Z" fill="#fff" stroke-width="2.1" stroke-linejoin="round"/>
<rect x="323.8" y="401.2" width="7.6" height="7.6" fill="#fff" stroke-width="2.1"/>
<rect x="351.9" y="400.7" width="7.6" height="7.6" fill="#fff" stroke-width="2.1"/>
<rect x="380.4" y="423.7" width="7.6" height="7.6" fill="#fff" stroke-width="2.1"/>
<rect x="408.6" y="466.8" width="7.6" height="7.6" fill="#fff" stroke-width="2.1"/>
<rect x="436.9" y="488.9" width="7.6" height="7.6" fill="#fff" stroke-width="2.1"/>
<rect x="465" y="497.9" width="7.6" height="7.6" fill="#fff" stroke-width="2.1"/>
<circle cx="327.6" cy="405" r="4.9" fill="#000" stroke="none"/>
<circle cx="355.7" cy="412" r="4.9" fill="#000" stroke="none"/>
<circle cx="384.2" cy="430.5" r="4.9" fill="#000" stroke="none"/>
<circle cx="412.4" cy="453.7" r="4.9" fill="#000" stroke="none"/>
<circle cx="440.7" cy="470.4" r="4.9" fill="#000" stroke="none"/>
<circle cx="468.8" cy="491.2" r="4.9" fill="#000" stroke="none"/>
<rect x="322.8" y="400.2" width="9.6" height="9.6" fill="#000" stroke="none"/>
<rect x="379.4" y="425.7" width="9.6" height="9.6" fill="#000" stroke="none"/>
</svg>
</body></html>
